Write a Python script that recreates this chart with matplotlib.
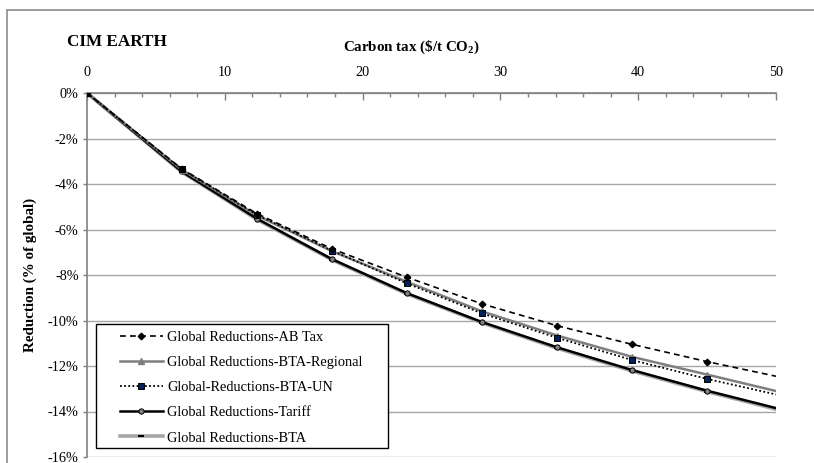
import matplotlib
matplotlib.use("Agg")
import matplotlib.pyplot as plt
from matplotlib.patches import Rectangle
from matplotlib.ticker import MultipleLocator, FuncFormatter

plt.rcParams['font.family'] = ['Liberation Serif', 'DejaVu Serif']
plt.rcParams['mathtext.fontset'] = 'custom'
plt.rcParams['mathtext.rm'] = 'Liberation Serif'
plt.rcParams['mathtext.bf'] = 'Liberation Serif:bold'

# Data
carbon_tax = [0, 6.87, 12.32, 17.77, 23.22, 28.67, 34.12, 39.57, 45.02, 50.0]
ab_tax     = [0, -3.33, -5.30, -6.85, -8.10, -9.27, -10.23, -11.05, -11.81, -12.45]
bta_reg    = [0, -3.37, -5.38, -6.95, -8.30, -9.60, -10.66, -11.60, -12.38, -13.10]
bta_un     = [0, -3.35, -5.35, -6.93, -8.37, -9.69, -10.76, -11.74, -12.57, -13.25]
tariff     = [0, -3.45, -5.52, -7.30, -8.80, -10.07, -11.18, -12.18, -13.09, -13.85]
bta        = [0, -3.47, -5.55, -7.33, -8.83, -10.10, -11.22, -12.22, -13.13, -13.90]

labels = ["Global Reductions-AB Tax", "Global Reductions-BTA-Regional",
          "Global-Reductions-BTA-UN", "Global Reductions-Tariff",
          "Global Reductions-BTA"]

W, H = 814, 463
fig = plt.figure(figsize=(W / 100, H / 100), dpi=100)
ax = fig.add_axes([87 / W, 1 - 457 / H, (776 - 87) / W, (457 - 93) / H])

# outer chart border
fig.patches.append(Rectangle((7 / W, -0.05), 1.2, 1 - 10 / H + 0.05, transform=fig.transFigure,
                             fill=False, edgecolor='#8c8c8c', linewidth=1.2))

me = slice(0, len(carbon_tax) - 1)
h_bta, = ax.plot(carbon_tax, bta, color='#a6a6a6', lw=2.6, marker='_', ms=4.5, mec='black',
                 mew=1.5, markevery=me, zorder=3)
h_tar, = ax.plot(carbon_tax, tariff, color='black', lw=1.8, marker='o', ms=3.8, mfc='#808080',
                 mec='black', mew=0.7, markevery=me, zorder=4)
h_reg, = ax.plot(carbon_tax, bta_reg, color='#7f7f7f', lw=1.8, marker='^', ms=4, mfc='#7f7f7f',
                 mec='#7f7f7f', markevery=me, zorder=5)
h_un, = ax.plot(carbon_tax, bta_un, color='black', lw=1.3, ls=(0, (1, 1.3)), marker='s', ms=4.5,
                mfc='#002060', mec='black', mew=0.7, markevery=me, zorder=6)
h_ab, = ax.plot(carbon_tax, ab_tax, color='black', lw=1.2, ls=(0, (3.5, 2.5)), marker='D', ms=3.3,
                mfc='black', mec='black', markevery=me, zorder=7)

ax.set_xlim(0, 50)
ax.set_ylim(-16, 0)

ax.xaxis.tick_top()
ax.xaxis.set_major_locator(MultipleLocator(10))
ax.xaxis.set_minor_locator(MultipleLocator(2))
ax.tick_params(axis='x', which='major', direction='in', length=5, width=1, color='#808080',
               labelsize=10.3, pad=10)
ax.tick_params(axis='x', which='minor', direction='in', length=3, width=1, color='#808080')
ax.yaxis.set_major_locator(MultipleLocator(2))
ax.yaxis.set_major_formatter(FuncFormatter(lambda v, p: f"{int(round(v))}%"))
ax.tick_params(axis='y', which='major', direction='out', length=3, width=1, color='#808080',
               labelsize=10.3, pad=3)

for s in ['right', 'bottom']:
    ax.spines[s].set_visible(False)
for s in ['left', 'top']:
    ax.spines[s].set_color('#808080')
    ax.spines[s].set_linewidth(1.2)

ax.grid(axis='y', color='#a6a6a6', lw=1.0)
ax.set_axisbelow(True)

ax.set_ylabel("Reduction (% of global)", fontsize=10.8, fontweight='bold', labelpad=8)
fig.text(67 / W, 1 - 42 / H, "CIM EARTH", fontsize=12.3, fontweight='bold', va='center', ha='left')
fig.text(411 / W, 1 - 47 / H, r"Carbon tax (\$/t CO$_\mathbf{2}$)", fontsize=10.8,
         fontweight='bold', va='center', ha='center')

# legend (frame drawn separately to match the wide box of the reference)
leg = ax.legend([h_ab, h_reg, h_un, h_tar, h_bta], labels, loc='upper left',
                bbox_to_anchor=(120 / W, 1 - 331 / H), bbox_transform=fig.transFigure,
                frameon=False, fontsize=10.4,
                handlelength=2.95, handletextpad=0.33, labelspacing=0.83, borderpad=0,
                borderaxespad=0)
leg.set_zorder(10)
ax.add_patch(Rectangle((95.7 / W, 1 - 448.3 / H), (388.3 - 95.7) / W, (448.3 - 324) / H,
                       transform=fig.transFigure, facecolor='white', edgecolor='black',
                       linewidth=1.0, zorder=9, clip_on=False))

fig.savefig("out.png", dpi=100)
